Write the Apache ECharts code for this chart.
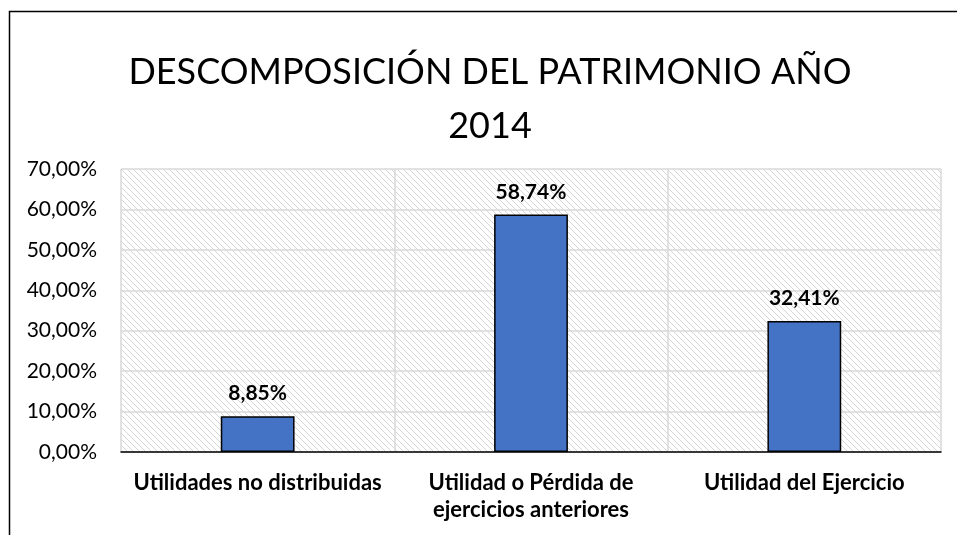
<!DOCTYPE html>
<html><head><meta charset="utf-8">
<script src="https://cdn.jsdelivr.net/npm/echarts@6/dist/echarts.min.js"></script>
<style>html,body{margin:0;padding:0;background:#fff}#c{width:957px;height:535px}</style>
</head><body><div id="c"></div>
<script>
const titleLines = ['DESCOMPOSICIÓN DEL PATRIMONIO AÑO', '2014'];
const categories = ['Utilidades no distribuidas', 'Utilidad o Pérdida de\nejercicios anteriores', 'Utilidad del Ejercicio'];
const values = [8.85, 58.74, 32.41];
const yTicks = { min: 0, max: 70, interval: 10 };

const FONT = 'Lato';
const TITLE_SIZE = 36;
const TITLE_CENTER_X = 490;

const pc = document.createElement('canvas');
pc.width = 6; pc.height = 6;
const g = pc.getContext('2d');
g.fillStyle = '#ffffff'; g.fillRect(0,0,6,6);
g.strokeStyle = '#d6d6d6'; g.lineWidth = 1;
g.beginPath();
g.moveTo(-1,-1); g.lineTo(7,7);
g.moveTo(-1,5); g.lineTo(1,7);
g.moveTo(5,-1); g.lineTo(7,1);
g.stroke();

const chart = echarts.init(document.getElementById('c'), null, {renderer:'canvas'});
const fmt = v => v.toFixed(2).replace('.', ',') + '%';
chart.setOption({
  animation: false,
  title: {
    text: titleLines.join('\n'), left: TITLE_CENTER_X, top: 45, padding: 0,
    textAlign: 'center',
    textStyle: { fontFamily: FONT, fontSize: TITLE_SIZE, fontWeight: 'normal', color: '#000', lineHeight: 54 }
  },
  graphic: [{
    type: 'rect', shape: { x: 9.5, y: 11.5, width: 1000, height: 600 },
    style: { fill: 'none', stroke: '#000', lineWidth: 1.5 }, silent: true, z: 100
  }],
  grid: {
    left: 121, right: 16, top: 169, bottom: 83,
    show: true, borderWidth: 0,
    backgroundColor: { image: pc, repeat: 'repeat' }
  },
  xAxis: {
    type: 'category', data: categories,
    axisLine: { lineStyle: { color: '#000', width: 1.5 } },
    axisTick: { show: false },
    splitLine: { show: true, lineStyle: { color: '#d9d9d9', width: 1.5 } },
    axisLabel: { fontFamily: FONT, fontSize: 22, fontWeight: 'bold', color: '#000', margin: 17, lineHeight: 27, interval: 0 }
  },
  yAxis: {
    type: 'value', min: yTicks.min, max: yTicks.max, interval: yTicks.interval,
    axisLine: { show: false }, axisTick: { show: false },
    splitLine: { lineStyle: { color: '#d9d9d9', width: 1.5 } },
    axisLabel: { fontFamily: FONT, fontSize: 21, color: '#000', margin: 24, formatter: fmt }
  },
  series: [{
    type: 'bar', data: values, barWidth: '27%',
    itemStyle: { color: '#4472C4', borderColor: '#000', borderWidth: 1.5 },
    label: { show: true, position: 'top', distance: 12, formatter: p => fmt(p.value),
      fontFamily: FONT, fontSize: 21, fontWeight: 'bold', color: '#000' }
  }]
});
</script></body></html>
